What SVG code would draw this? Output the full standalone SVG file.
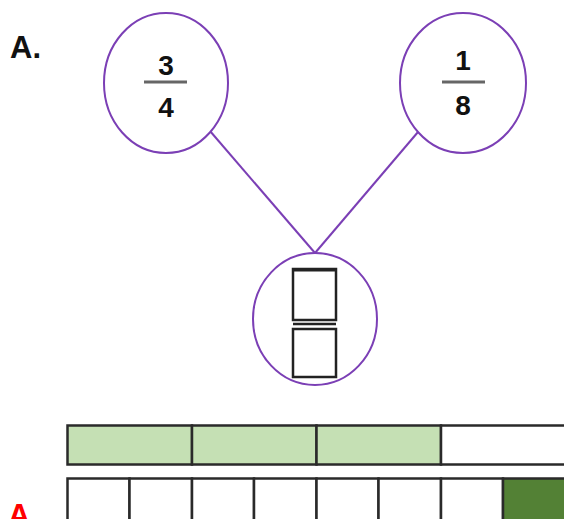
<svg xmlns="http://www.w3.org/2000/svg" width="564" height="519" viewBox="0 0 564 519">
<style>
.node{fill:#fff;stroke:#7b3fb5;stroke-width:2}
.conn{stroke:#7b3fb5;stroke-width:2;fill:none}
.num{font-family:"Liberation Sans",Arial,sans-serif;font-weight:bold;font-size:28px;fill:#111;text-anchor:middle}
.bar{stroke:#666;stroke-width:3}
.box{fill:#fff;stroke:#222;stroke-width:2.5}
.cell{stroke:#2a2a2a;stroke-width:2.5}
.lg{fill:#c5e0b4}
.dg{fill:#538135}
.wh{fill:#fff}
</style>
<rect width="564" height="519" fill="#fff"/>
<text x="10" y="58" font-family="Liberation Sans, Arial, sans-serif" font-weight="bold" font-size="31" fill="#111">A.</text>
<g id="connectors">
<line class="conn" x1="210" y1="131" x2="315" y2="253"/>
<line class="conn" x1="418" y1="132" x2="315" y2="253"/>
</g>
<g id="node-three-quarters">
<ellipse class="node" cx="166" cy="83" rx="62" ry="70"/>
<text class="num" x="166" y="75">3</text>
<line class="bar" x1="144" y1="82" x2="187" y2="82"/>
<text class="num" x="166" y="117">4</text>
</g>
<g id="node-one-eighth">
<ellipse class="node" cx="463" cy="83" rx="63" ry="70"/>
<text class="num" x="463" y="70">1</text>
<line class="bar" x1="442" y1="82" x2="485" y2="82"/>
<text class="num" x="463" y="115">8</text>
</g>
<g id="node-answer">
<ellipse class="node" cx="315" cy="319" rx="62" ry="66"/>
<rect class="box" x="293" y="269" width="43" height="51"/>
<line x1="293" y1="270" x2="336" y2="270" stroke="#222" stroke-width="3"/>
<line x1="293" y1="324" x2="336" y2="324" stroke="#222" stroke-width="2.5"/>
<rect class="box" x="293" y="329" width="43" height="48"/>
</g>
<g id="bar-quarters">
<rect class="cell lg" x="67.5" y="425.5" width="124.5" height="39"/>
<rect class="cell lg" x="192" y="425.5" width="124.5" height="39"/>
<rect class="cell lg" x="316.5" y="425.5" width="124.5" height="39"/>
<rect class="cell wh" x="441" y="425.5" width="124.5" height="39"/>
</g>
<g id="bar-eighths">
<rect class="cell wh" x="67.5" y="478.5" width="62" height="42"/>
<rect class="cell wh" x="129.5" y="478.5" width="62.5" height="42"/>
<rect class="cell wh" x="192" y="478.5" width="62" height="42"/>
<rect class="cell wh" x="254" y="478.5" width="62.5" height="42"/>
<rect class="cell wh" x="316.5" y="478.5" width="62" height="42"/>
<rect class="cell wh" x="378.5" y="478.5" width="62.5" height="42"/>
<rect class="cell wh" x="441" y="478.5" width="62" height="42"/>
<rect class="cell dg" x="503" y="478.5" width="62.5" height="42"/>
</g>
<text x="8" y="526" font-family="Liberation Sans, Arial, sans-serif" font-weight="bold" font-size="31" fill="#ff0000">A</text>
</svg>
